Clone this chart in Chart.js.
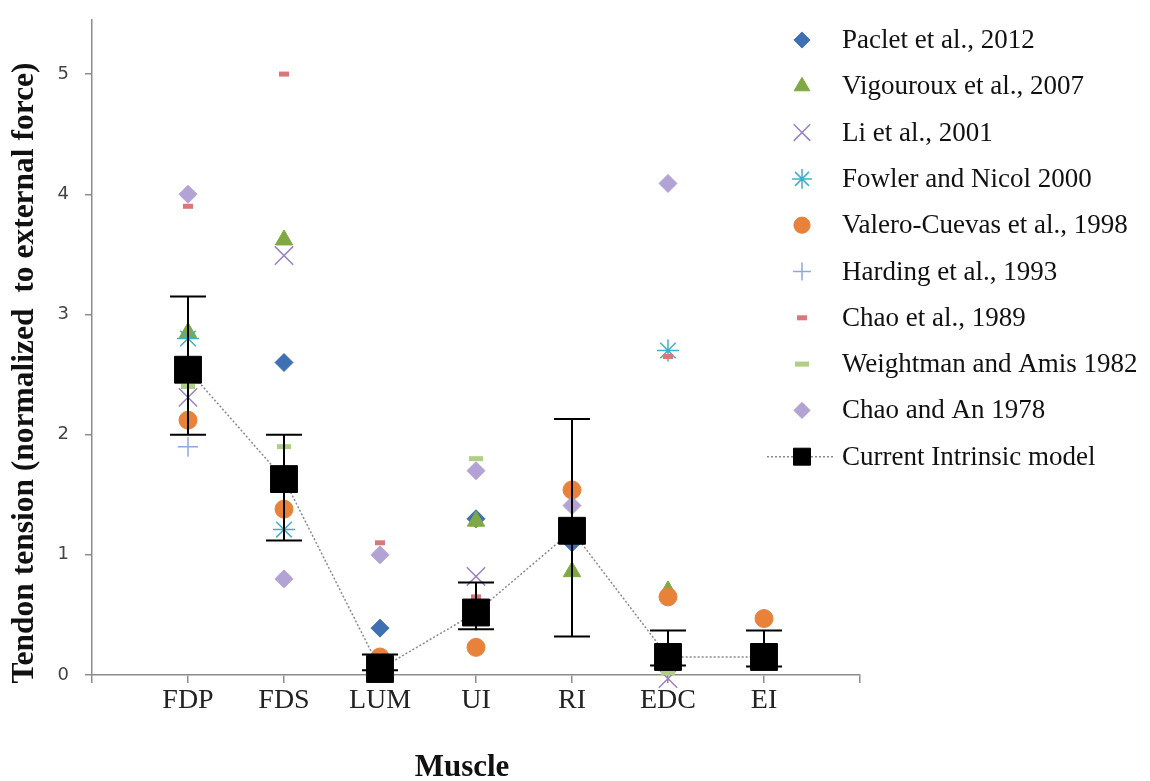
<!DOCTYPE html>
<html>
<head>
<meta charset="utf-8">
<script src="https://cdn.jsdelivr.net/npm/chart.js@4.4.1/dist/chart.umd.min.js"></script>
<style>
body{margin:0;background:#fff;}
</style>
</head>
<body>
<canvas id="tensionChart" width="1150" height="781"></canvas>
<script>
// data
var muscles = ["FDP", "FDS", "LUM", "UI", "RI", "EDC", "EI"];
var paclet    = [2.5, 2.6, 0.39, 1.3, 1.1, 0.1, 0.19];
var vigouroux = [2.85, 3.62, 0.02, 1.28, 0.86, 0.7, null];
var li        = [2.31, 3.49, null, 0.82, null, -0.03, null];
var fowler    = [2.8, 1.21, null, null, null, 2.7, null];
var valero    = [2.12, 1.38, 0.15, 0.23, 1.54, 0.65, 0.47];
var harding   = [1.9, 1.55, 0.1, 0.45, 1.2, null, null];
var chao1989  = [3.9, 5.0, 1.1, 0.65, null, 2.65, null];
var weightman = [2.4, 1.9, null, 1.8, null, 0.02, null];
var chaoAn    = [4.0, 0.8, 1.0, 1.7, 1.41, 4.09, null];
var model     = [2.54, 1.63, 0.05, 0.52, 1.2, 0.15, 0.15];
var modelHigh = [3.15, 2.0, 0.17, 0.77, 2.13, 0.37, 0.37];
var modelLow  = [2.0, 1.12, 0.04, 0.38, 0.32, 0.08, 0.07];
var yTicks = [0, 1, 2, 3, 4, 5];

function pts(arr){
  var out = [];
  arr.forEach(function(v, i){ if (v !== null) out.push({x: i + 1, y: v}); });
  return out;
}

var series = [
  {label: "Paclet et al., 2012", data: paclet, style: "rectRot", color: "#3f70b3", r: 9, bw: 1},
  {label: "Vigouroux et al., 2007", data: vigouroux, style: "triangle", color: "#80a843", r: 10, bw: 1},
  {label: "Li et al., 2001", data: li, style: "crossRot", color: "#9b82c2", r: 13, bw: 1.5},
  {label: "Fowler and Nicol 2000", data: fowler, style: "star", color: "#3fb0c9", r: 11, bw: 1.5},
  {label: "Valero-Cuevas et al., 1998", data: valero, style: "circle", color: "#e8823a", r: 9, bw: 1},
  {label: "Harding et al., 1993", data: harding, style: "cross", color: "#8fa8dc", r: 10, bw: 1.5},
  {label: "Chao et al., 1989", data: chao1989, style: "line", color: "#d9777a", r: 5, bw: 5},
  {label: "Weightman and Amis 1982", data: weightman, style: "line", color: "#b0cf84", r: 7, bw: 5},
  {label: "Chao and An 1978", data: chaoAn, style: "rectRot", color: "#b3a2d4", r: 9, bw: 1}
];

var datasets = series.map(function(s, i){
  return {
    label: s.label, data: pts(s.data), showLine: false, clip: false,
    pointStyle: s.style, pointRadius: s.r, pointHoverRadius: s.r,
    backgroundColor: s.color, borderColor: s.color, pointBorderWidth: s.bw,
    order: 20 - i
  };
});
datasets.push({
  label: "Current Intrinsic model", data: pts(model), showLine: true, clip: false,
  borderColor: "#8a8a8a", borderWidth: 1.5, borderDash: [2, 2],
  pointStyle: "rect", pointRadius: 19, pointHoverRadius: 19,
  pointBackgroundColor: "#000", pointBorderColor: "#000", pointBorderWidth: 1,
  order: 0
});

var errorBars = {
  id: "errorBars",
  afterDatasetsDraw: function(chart){
    var ctx = chart.ctx, xs = chart.scales.x, ys = chart.scales.y;
    ctx.save();
    ctx.strokeStyle = "#000";
    ctx.lineWidth = 2;
    model.forEach(function(v, i){
      var x = xs.getPixelForValue(i + 1);
      var y1 = ys.getPixelForValue(modelHigh[i]);
      var y2 = ys.getPixelForValue(modelLow[i]);
      ctx.beginPath();
      ctx.moveTo(x, y1); ctx.lineTo(x, y2);
      ctx.moveTo(x - 18, y1); ctx.lineTo(x + 18, y1);
      ctx.moveTo(x - 18, y2); ctx.lineTo(x + 18, y2);
      ctx.stroke();
    });
    ctx.restore();
  }
};

// legend and axis titles, placed where the original has them
var sideLegend = {
  id: "sideLegend",
  afterDraw: function(chart){
    var ctx = chart.ctx;
    var mx = 802, tx = 842, y0 = 40, dy = 46.3;
    ctx.save();
    ctx.font = "27px 'Liberation Serif', 'Times New Roman', serif";
    ctx.textBaseline = "middle";
    ctx.textAlign = "left";
    chart.data.datasets.forEach(function(ds, i){
      var y = y0 + i * dy;
      var isModel = i === chart.data.datasets.length - 1;
      if (isModel) {
        ctx.strokeStyle = "#8a8a8a";
        ctx.lineWidth = 1.5;
        ctx.setLineDash([2, 2]);
        ctx.beginPath(); ctx.moveTo(767, y); ctx.lineTo(833, y); ctx.stroke();
        ctx.setLineDash([]);
        ctx.fillStyle = "#000";
        ctx.strokeStyle = "#000";
        ctx.lineWidth = 1;
        Chart.helpers.drawPoint(ctx, {pointStyle: "rect", radius: 12, rotation: 0, borderWidth: 1}, mx, y);
      } else {
        var s = series[i];
        ctx.fillStyle = s.color;
        ctx.strokeStyle = s.color;
        ctx.lineWidth = s.bw;
        Chart.helpers.drawPoint(ctx, {pointStyle: s.style, radius: s.style === "line" ? s.r : s.r * 0.9, rotation: 0, borderWidth: s.bw}, mx, y);
      }
      ctx.fillStyle = "#111";
      ctx.fillText(ds.label, tx, y + 1);
    });

    ctx.font = "bold 31px 'Liberation Serif', 'Times New Roman', serif";
    ctx.textAlign = "center";
    ctx.fillText("Muscle", 462, 768);
    ctx.translate(25, 373);
    ctx.rotate(-Math.PI / 2);
    ctx.font = "bold 31.5px 'Liberation Serif', 'Times New Roman', serif";
    ctx.fillText("Tendon tension (normalized  to external force)", 0, 0);
    ctx.restore();
  }
};

var ctx = document.getElementById("tensionChart").getContext("2d");
var tensionChart = new Chart(ctx, {
  type: "scatter",
  data: {datasets: datasets},
  plugins: [errorBars, sideLegend],
  options: {
    responsive: false,
    animation: false,
    events: [],
    layout: {padding: {top: 8, right: 290, left: 0, bottom: 0}},
    plugins: {legend: {display: false}, tooltip: {enabled: false}},
    scales: {
      x: {
        type: "linear", min: 0, max: 8,
        afterBuildTicks: function(scale){
          var t = [];
          for (var i = 0; i <= muscles.length + 1; i++) t.push({value: i});
          scale.ticks = t;
        },
        afterFit: function(scale){ scale.height = 106; },
        grid: {drawOnChartArea: false, tickLength: 8, color: "#8c8c8c", lineWidth: 1.5},
        border: {color: "#8c8c8c", width: 1.5},
        ticks: {
          autoSkip: false, maxRotation: 0, padding: 1, color: "#222",
          font: {family: "'Liberation Serif', serif", size: 28},
          callback: function(v){ return muscles[v - 1] || ""; }
        }
      },
      y: {
        min: 0, max: 5.45,
        afterBuildTicks: function(scale){
          scale.ticks = yTicks.map(function(v){ return {value: v}; });
        },
        afterFit: function(scale){
          scale.width = 92;
          scale.paddingTop = 0;
          scale.paddingBottom = 0;
        },
        grid: {drawOnChartArea: false, tickLength: 7, color: "#8c8c8c", lineWidth: 1.5},
        border: {color: "#8c8c8c", width: 1.5},
        ticks: {
          padding: 16, color: "#444",
          font: {family: "'DejaVu Sans', sans-serif", size: 18}
        }
      }
    }
  }
});
</script>
</body>
</html>
